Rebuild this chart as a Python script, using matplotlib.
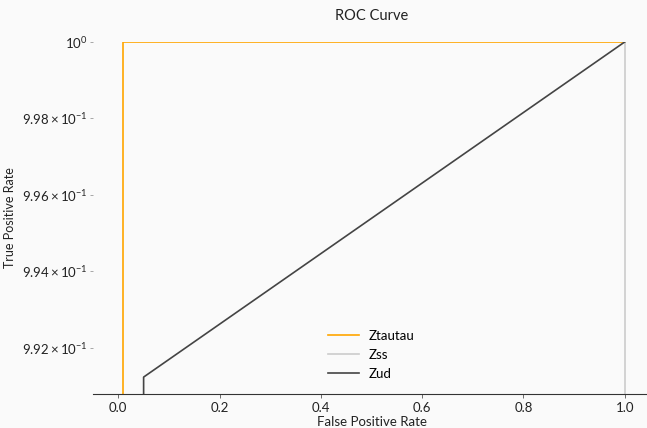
import matplotlib as mpl
import matplotlib.pyplot as plt
import numpy as np

mpl.rcParams['font.family'] = ['Lato', 'DejaVu Sans']
mpl.rcParams['mathtext.fontset'] = 'custom'
mpl.rcParams['mathtext.rm'] = 'Lato'
mpl.rcParams['mathtext.it'] = 'Lato:italic'
mpl.rcParams['mathtext.bf'] = 'Lato:bold'

# ROC curves (log-scaled TPR, lower values clipped below the axis)
fpr_tautau = [0.0, 0.01, 0.01, 1.0]
tpr_tautau = [0.5, 0.5, 1.0, 1.0]
fpr_ss = [0.0, 1.0, 1.0]
tpr_ss = [0.5, 0.5, 1.0]
fpr_ud = [0.0, 0.05, 0.05, 1.0]
tpr_ud = [0.5, 0.5, 0.99125, 1.0]

ytick_vals = [0.992, 0.994, 0.996, 0.998, 1.0]
ytick_labels = [r'$\mathrm{9.92}\times\mathrm{10}^{-1}$', r'$\mathrm{9.94}\times\mathrm{10}^{-1}$',
                r'$\mathrm{9.96}\times\mathrm{10}^{-1}$', r'$\mathrm{9.98}\times\mathrm{10}^{-1}$',
                r'$\mathrm{10}^{0}$']

# ----------------------------------------------------------------------

fig = plt.figure(figsize=(6.47, 4.28), dpi=100)
fig.patch.set_facecolor('#fafafa')
ax = fig.add_axes([0.1437, 0.0794, 0.861, 0.8226])
ax.set_facecolor('#fafafa')

ax.plot(fpr_tautau, tpr_tautau, color='#ffa500', lw=1.2, label='Ztautau')
ax.plot(fpr_ss, tpr_ss, color='#cccccc', lw=1.2, label='Zss')
ax.plot(fpr_ud, tpr_ud, color='#444444', lw=1.2, label='Zud')

ax.set_yscale('log')
ax.set_xlim(-0.05, 1.05)
ax.set_ylim(0.99081, 1.0)
ax.yaxis.set_minor_locator(mpl.ticker.NullLocator())
ax.set_yticks(ytick_vals, ytick_labels)
ax.set_xticks([0.0, 0.2, 0.4, 0.6, 0.8, 1.0], ['0.0', '0.2', '0.4', '0.6', '0.8', '1.0'])

for s in ['top', 'right', 'left']:
    ax.spines[s].set_visible(False)
ax.spines['bottom'].set_color('#333333')
ax.tick_params(axis='y', length=2, width=0.6, color='#999999', labelsize=9.5, pad=2, labelcolor='#222222')
ax.tick_params(axis='x', length=3, width=0.6, color='#555555', labelsize=9.5, pad=3, labelcolor='#222222')

ax.set_title('ROC Curve', fontsize=10.5, color='#222222', pad=16)
ax.set_xlabel('False Positive Rate', fontsize=9.5, color='#222222', labelpad=1)
ax.set_ylabel('True Positive Rate', fontsize=9, color='#222222', labelpad=4)

ax.legend(loc='lower center', bbox_to_anchor=(0.5, 0.006), frameon=False, fontsize=9.5,
          handlelength=2.3, labelspacing=0.55)

plt.savefig('out.png', dpi=100, facecolor=fig.get_facecolor())
